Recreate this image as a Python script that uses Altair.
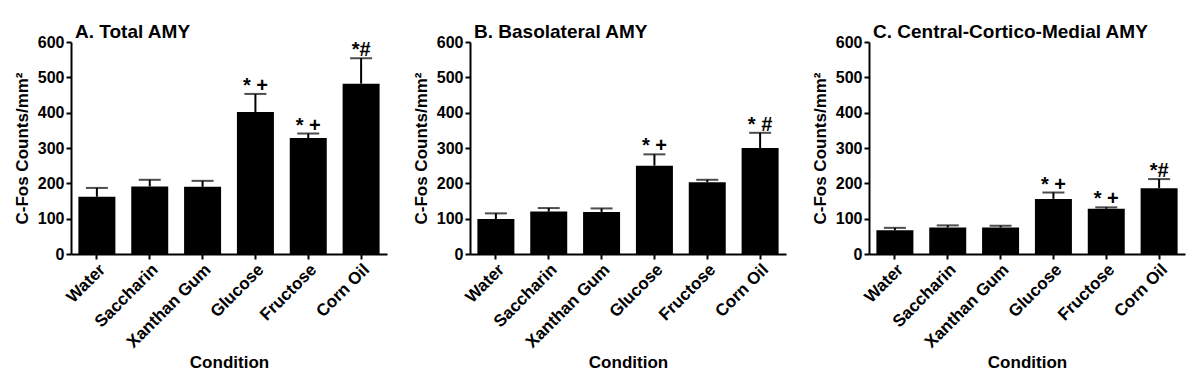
import altair as alt
import pandas as pd

conditions = ["Water", "Saccharin", "Xanthan Gum", "Glucose", "Fructose", "Corn Oil"]

total_mean = [162, 191, 190, 402, 328, 482]
total_upper = [187, 210, 207, 453, 341, 554]
total_marks = ["", "", "", "* +", "* +", "*#"]

baso_mean = [99, 120, 119, 250, 203, 300]
baso_upper = [115, 130, 129, 282, 210, 343]
baso_marks = ["", "", "", "* +", "", "* #"]

ccm_mean = [67, 75, 75, 156, 128, 186]
ccm_upper = [74, 81, 80, 174, 132, 212]
ccm_marks = ["", "", "", "* +", "* +", "*#"]

titles = ["A. Total AMY", "B. Basolateral AMY", "C. Central-Cortico-Medial AMY"]
y_ticks = [0, 100, 200, 300, 400, 500, 600]

FONT = "Liberation Sans"


def panel(title, means, uppers, marks):
    df = pd.DataFrame({"Condition": conditions, "mean": means, "upper": uppers, "mark": marks})
    x = alt.X(
        "Condition:N",
        sort=conditions,
        scale=alt.Scale(paddingInner=0.3, paddingOuter=0.14),
        axis=alt.Axis(
            title="Condition",
            labelAngle=-45,
            labelFontSize=17,
            titleFontSize=17,
            titlePadding=4,
        ),
    )
    y_scale = alt.Scale(domain=[0, 600], nice=False)
    y_axis = alt.Axis(
        title="C-Fos Counts/mm\u00b2",
        values=y_ticks,
        tickCount=7,
        grid=False,
        labelOverlap=False,
        labelFontSize=16,
        titleFontSize=17,
        titlePadding=6,
    )
    base = alt.Chart(df)
    bars = base.mark_bar(color="black").encode(
        x=x, y=alt.Y("mean:Q", scale=y_scale, axis=y_axis)
    )
    rule = base.mark_rule(color="black", strokeWidth=2).encode(
        x=alt.X("Condition:N", sort=conditions),
        y=alt.Y("mean:Q", scale=y_scale, axis=y_axis),
        y2="upper:Q",
    )
    cap = base.mark_tick(color="black", thickness=2, size=22).encode(
        x=alt.X("Condition:N", sort=conditions),
        y=alt.Y("upper:Q", scale=y_scale, axis=y_axis),
    )
    text = base.mark_text(
        color="black", fontSize=20, fontWeight="bold", font=FONT, baseline="alphabetic", dy=-2
    ).encode(
        x=alt.X("Condition:N", sort=conditions),
        y=alt.Y("upper:Q", scale=y_scale, axis=y_axis),
        text="mark:N",
    )
    return alt.layer(bars, rule, cap, text).properties(
        width=316,
        height=212,
        title=alt.TitleParams(
            text=title,
            anchor="start",
            frame="group",
            fontSize=19,
            font=FONT,
            fontWeight="bold",
            color="black",
            dx=4,
            offset=-8,
        ),
    )


chart = alt.hconcat(
    panel(titles[0], total_mean, total_upper, total_marks),
    panel(titles[1], baso_mean, baso_upper, baso_marks),
    panel(titles[2], ccm_mean, ccm_upper, ccm_marks),
    spacing=25,
).properties(
    padding={"left": 5, "top": 15, "right": 5, "bottom": 5},
    background="white",
).configure_view(stroke=None).configure_axis(
    domainColor="black",
    domainWidth=2,
    tickColor="black",
    tickWidth=2,
    tickSize=5,
    labelPadding=2,
    labelFont=FONT,
    labelFontWeight="bold",
    labelColor="black",
    titleFont=FONT,
    titleFontWeight="bold",
    titleColor="black",
)

chart.save("out.html", embed_options={"renderer": "svg", "actions": False})
